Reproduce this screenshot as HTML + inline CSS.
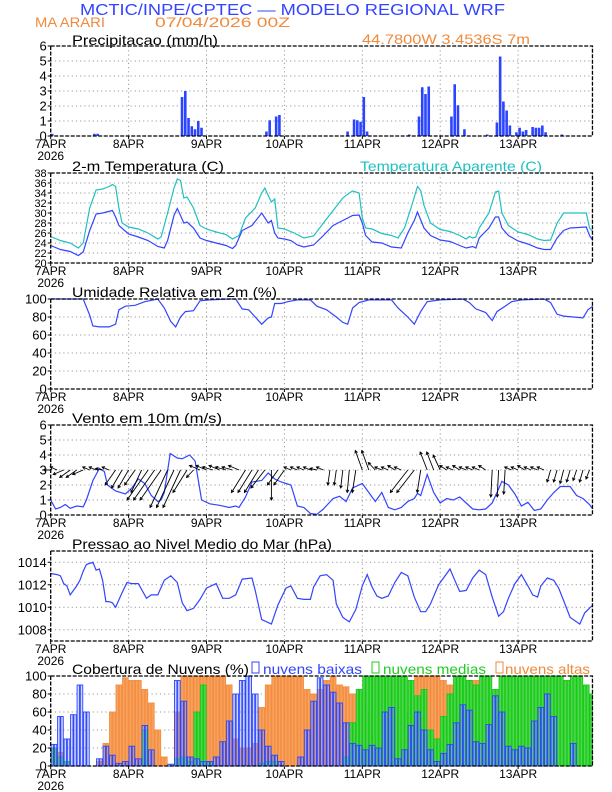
<!DOCTYPE html>
<html><head><meta charset="utf-8"><style>
html,body{margin:0;padding:0;background:#fff}
svg{display:block;font-family:"Liberation Sans",sans-serif}
</style></head><body>
<svg id="c" width="612" height="792" viewBox="0 0 612 792" xmlns="http://www.w3.org/2000/svg">
<text x="80" y="15" textLength="425" lengthAdjust="spacingAndGlyphs" font-size="16" fill="#3344ff">MCTIC/INPE/CPTEC — MODELO REGIONAL WRF</text>
<text x="35" y="27" textLength="70" lengthAdjust="spacingAndGlyphs" font-size="14" fill="#f08a3c">MA ARARI</text>
<text x="155" y="27" textLength="135" lengthAdjust="spacingAndGlyphs" font-size="14" fill="#f08a3c">07/04/2026 00Z</text>
<text x="362" y="44" textLength="168" lengthAdjust="spacingAndGlyphs" font-size="14" fill="#f08a3c">44.7800W 3.4536S 7m</text>
<text x="72" y="45" textLength="146" lengthAdjust="spacingAndGlyphs" font-size="14" fill="#000">Precipitacao (mm/h)</text>
<text x="72" y="171" textLength="152" lengthAdjust="spacingAndGlyphs" font-size="14" fill="#000">2-m Temperatura (C)</text>
<text x="360" y="171" textLength="182" lengthAdjust="spacingAndGlyphs" font-size="14" fill="#20c0c0">Temperatura Aparente (C)</text>
<text x="72" y="297" textLength="205" lengthAdjust="spacingAndGlyphs" font-size="14" fill="#000">Umidade Relativa em 2m (%)</text>
<text x="72" y="423" textLength="150" lengthAdjust="spacingAndGlyphs" font-size="14" fill="#000">Vento em 10m (m/s)</text>
<text x="72" y="549" textLength="260" lengthAdjust="spacingAndGlyphs" font-size="14" fill="#000">Pressao ao Nivel Medio do Mar (hPa)</text>
<text x="72" y="674" textLength="177" lengthAdjust="spacingAndGlyphs" font-size="14" fill="#000">Cobertura de Nuvens (%)</text>
<rect x="252" y="662" width="7" height="11" fill="none" stroke="#3344ff"/>
<text x="263" y="674" textLength="99" lengthAdjust="spacingAndGlyphs" font-size="14" fill="#3344ff">nuvens baixas</text>
<rect x="372" y="662" width="7" height="11" fill="none" stroke="#22cc22"/>
<text x="383" y="674" textLength="103" lengthAdjust="spacingAndGlyphs" font-size="14" fill="#22cc22">nuvens medias</text>
<rect x="496" y="662" width="7" height="11" fill="none" stroke="#f08a3c"/>
<text x="505" y="674" textLength="85" lengthAdjust="spacingAndGlyphs" font-size="14" fill="#f08a3c">nuvens altas</text>
</svg>
<script>
const dayLabels=["7APR","8APR","9APR","10APR","11APR","12APR","13APR"];
const precipHours=[0,13,14,40,41,42,43,44,45,46,66,67,69,70,91,93,94,95,96,97,110,113,114,115,116,123,124,125,127,134,137,138,139,140,141,143,144,145,146,148,149,150,151,152,157];
const precipValues=[0.15,0.15,0.15,2.6,3.0,1.2,0.65,0.45,1.0,0.55,0.3,1.05,1.3,1.4,0.3,1.1,1.05,0.95,2.6,0.3,0.1,1.3,3.25,2.8,3.3,1.3,3.45,2.05,0.45,0.1,0.9,5.3,2.3,1.7,0.7,0.25,0.55,0.3,0.4,0.6,0.55,0.55,0.7,0.25,0.1];
const tempHours=[0,3,6,8.5,10,12,14,16,19,20,21,24,27,30,33,35,36,38,39,40,41,42,44,46,48,51,54,56,57,59,62,65,67,68,69,70,72,74,76,78,81,84,87,90,93,95,96,97,99,102,105,108,110,112,113,115,117,120,123,126,128,130,131,132,135,137,138,139,141,144,147,150,152,154,156,158,160,165,166,167];
const tempValues=[23.5,22.7,22.3,21.5,22.2,26.5,29.8,30.0,30.5,29.2,27.5,25.8,25.2,24.5,23.3,23.0,24.5,29.5,30.9,29.5,28.0,28.2,27.0,25.0,24.5,24.0,23.5,22.9,23.5,26.5,27.5,30.0,28.0,28.5,26.0,25.0,24.8,24.5,23.6,23.2,23.6,25.5,27.5,28.5,29.5,29.6,28.0,25.5,24.2,24.0,23.2,23.0,26.0,28.5,30.2,27.0,25.5,24.6,24.3,23.5,23.0,23.3,23.0,25.0,27.0,29.2,29.2,27.0,25.5,24.4,23.8,23.0,22.7,22.7,25.0,26.5,27.0,27.2,25.5,24.5];
const appHours=[0,3,6,8.5,10,12,14,16,18,19,20,21,22,24,27,30,33,34,36,38,39,40,41,42,44,46,48,51,54,56,58,60,63,65,66,67,68,69,70,72,75,78,81,84,87,90,92,93,95,96,97,99,102,105,107,109,111,113,114,115,117,120,123,126,128,129,130,131,132,135,137,138,139,141,144,147,150,152,154,156,158,165,166,167];
const appValues=[25.3,24.5,24.0,23.0,24.0,31.0,34.6,34.8,35.3,35.7,35.3,31.0,28.0,27.2,26.8,26.0,24.8,25.2,30.0,35.0,36.8,36.5,33.0,33.2,31.0,27.5,26.8,26.2,25.7,24.8,25.5,29.0,31.0,34.0,35.0,33.5,32.2,32.8,27.0,26.8,26.0,25.0,25.4,28.0,30.5,33.0,34.0,34.4,34.0,29.0,27.0,26.8,25.9,25.5,25.0,27.0,31.0,35.3,34.5,31.5,28.0,26.7,26.3,25.5,24.8,25.3,25.0,25.2,27.0,30.0,34.2,34.4,30.0,27.5,26.2,25.7,24.8,24.5,24.6,28.0,30.0,30.0,27.0,26.3];
const rhHours=[0,10,12,13,15,18,20,21,23,26,29,33,35,37,38.5,40,41.5,44,46,49,55,57,59,61,63,65,67,68,69,71,73,76,80,82,85,88,90,91.5,93,95,98,105,107,110,112,114,116,120,127,129,131,134,136,137.5,140,142,145,152,154,156,158,161,164,165.5,167];
const rhValues=[100,100,82,70,69,69,72,88,92,93,97,100,90,75,69,80,86,87,98,99,100,100,89,88,80,72,79,80,95,95,97,99,99,92,88,80,74,72,90,96,99,99,90,80,72,86,97,99,100,96,89,85,76,86,92,97,99,100,96,83,81,80,79,88,92];
const windHours=[0,1.5,3,4.5,6,8,10,11,13,15,16.5,17.5,20,23,25,27,29,31,33,34,35,36.8,39,40.5,42.8,44.5,46.5,49,52,55,57,58,60,62,65,67,69,71,74,76,78,80,82,84,87,89,91,93,96,98,100,102,104,106,108,110,112,113,114,116,118,120,122,124,126,128,130,132,134,136,137.5,139,141,143,145,147,149,151,153,155,157,160,162,164,166,167];
const windSpeed=[1.0,0.4,0.5,0.7,0.45,0.6,0.55,1.0,2.3,3.1,2.9,2.0,1.6,1.4,1.8,2.4,2.1,1.3,0.9,1.0,1.5,4.1,3.8,3.75,4.0,3.6,1.0,0.75,0.65,0.5,0.6,0.5,1.2,2.2,2.3,2.8,2.4,2.2,2.0,0.6,0.5,0.1,0.05,0.4,1.1,1.25,0.9,1.8,2.1,1.5,0.9,1.5,0.5,0.35,0.5,0.9,1.1,1.45,1.3,2.7,1.5,0.8,1.1,1.0,1.2,0.8,0.4,0.35,0.4,0.8,1.5,2.25,2.0,1.4,0.6,0.85,0.3,0.4,1.0,1.5,1.9,1.9,1.3,1.1,0.7,0.4];
const arrowU=[-1,-1,-1.5,-1.5,-1.5,-1.5,-1,-1,-1,-1,-1.5,-1.5,-1.5,-1.5,-1.5,-3,-3,-3,-2.5,-2.5,-2.5,-2,-1,-1.5,-1.5,-1.5,-1.5,-1.5,-1.5,-1.5,-2,-2,-2,-2,0,-1.5,-1.5,-1,-1,-1,-1,-1,-1,-0.3,-0.3,-0.3,-0.3,-0.5,-1,-1,-1,-1,-1,-1,-1,-2.5,-2.5,-0.5,-1,-1,-1,-1,-1,-1,-1,-1,-1,-1,-0.2,-0.2,-0.2,-1,-1,-1,-1,-1,-1,-0.5,-0.5,-0.5,-0.5,-0.5,-0.5,-0.5];
const arrowV=[0,0.2,-0.3,-0.5,-0.5,-0.3,0.2,0.2,0.1,0.2,-1.0,-1.2,-1.2,-1.0,-1.5,-2,-2,-2,-2.5,-2.5,-2.5,-1.5,-0.5,0.3,0.3,0.2,0.3,0.2,0.2,0.3,-1.5,-1.5,-1.5,-1.2,-2,-1,-1,0.2,0.2,0.2,0.2,0.1,0.2,-1,-1,-1.2,-1.5,-1.5,1.3,1.3,0.5,0.2,0.2,0.3,0.2,-1.5,-1.5,-1.5,1.2,1.2,1.0,0.3,0.2,0.3,0.2,0.2,0.2,0.3,-1.8,-1.8,-1.6,0.2,0.2,0.3,0.2,0.2,0.2,-0.8,-0.8,-0.9,-0.8,-0.7,-0.8,-0.6];
const presHours=[0,2,3,4,5,6,8,9,10,11,13,14,15,16,17,18,19,20,22,23.5,25,27,29.5,31,33,35,37,39,40.5,42,44,46,48,51,53,55,57,59,62,63,65,68,70,72.5,74,76,78,80,81,83,85,87,88,90,92,94,96,97.5,99,100.5,102,104,106,108,110,112,114,115.5,117,119.5,121,123,124.5,126,128,130,132,134,136,138,139.5,141,143,145,147,148.5,150,151,153,155,156.5,158,160,163,164.5,167];
const presValues=[1013,1012.9,1012.8,1012.1,1011.9,1011.1,1011.9,1012.4,1013.2,1013.8,1014.0,1013.3,1013.4,1012.4,1010.5,1010.5,1010.4,1010.0,1011.3,1012.2,1012.1,1012.1,1010.8,1011.1,1011.1,1012.4,1012.8,1012.2,1010.4,1009.7,1009.9,1010.7,1011.7,1012.1,1010.8,1010.8,1011.1,1012.5,1012.6,1011.5,1008.9,1008.5,1010.2,1011.7,1011.9,1010.8,1010.7,1010.7,1011.8,1012.8,1012.9,1012.4,1010.3,1009.1,1008.7,1009.8,1011.9,1012.9,1011.8,1011.0,1010.8,1011.0,1012.2,1013.1,1012.8,1010.9,1009.6,1009.6,1010.3,1012.0,1012.6,1013.4,1012.4,1011.4,1011.5,1012.6,1013.3,1012.9,1010.9,1009.2,1009.6,1010.8,1012.1,1012.9,1011.9,1011.1,1010.9,1011.9,1012.6,1012.4,1011.7,1010.6,1009.1,1008.5,1009.5,1010.2];
const cloudLow=[24,55,30,57,90,60,0,8,22,12,3,5,22,8,45,18,0,0,2,95,72,10,8,5,5,10,27,50,80,95,100,80,40,22,12,5,0,0,10,40,72,98,90,82,70,48,25,23,18,23,20,60,65,8,18,45,60,40,18,5,14,24,48,68,62,27,25,46,78,60,22,18,22,20,50,65,80,55,0,0,25,0,0,0];
const cloudMid=[20,10,5,0,0,0,0,0,0,0,0,0,0,0,40,0,0,0,0,8,10,5,60,90,5,0,0,0,0,0,0,0,3,5,5,0,0,0,0,0,0,0,0,0,0,10,48,85,100,100,100,100,100,100,100,95,78,85,40,30,55,80,100,100,95,90,100,100,85,100,100,100,100,100,100,100,100,100,100,95,100,100,90,80];
const cloudHigh=[20,15,0,0,0,0,0,5,25,60,90,98,95,95,85,70,40,10,0,60,100,100,100,100,100,100,100,90,30,20,20,25,65,90,100,100,100,100,100,85,80,85,95,100,90,88,80,75,60,30,20,15,5,10,30,60,100,100,100,100,95,90,95,100,95,95,30,20,10,10,10,10,5,5,5,5,5,10,0,0,0,0,0,0];

const NS="http://www.w3.org/2000/svg";
const svg=document.getElementById('c');
const X0=50.7, PXH=3.246;
function X(h){return X0+h*PXH;}
const XR=X(166.9);
function mk(tag,attrs,parent){const e=document.createElementNS(NS,tag);for(const k in attrs)e.setAttribute(k,attrs[k]);(parent||svg).appendChild(e);return e;}
function panel(name,top,bot,ymin,ymax,ticks,labelSize){
  const Y=v=>bot-(v-ymin)/(ymax-ymin)*(bot-top);
  const g=mk('g',{});
  
  
  for(let d=1;d<7;d++){const l=mk('line',{x1:X(d*24),x2:X(d*24),y1:top,y2:bot,stroke:'#999','stroke-dasharray':'1.2 3','stroke-width':1},g);
    
    }
  ticks.forEach(t=>{
    if(t>ymin&&t<ymax){const l=mk('line',{x1:X0,x2:XR,y1:Y(t),y2:Y(t),stroke:'#999','stroke-dasharray':'1.2 3','stroke-width':1},g);
      
      }
    const tk=mk('line',{x1:X0-3,x2:X0,y1:Y(t),y2:Y(t),stroke:'#000'},g);
    
    
    const tx=mk('text',{x:X0-4,y:Y(t)+labelSize*0.36,'text-anchor':'end','font-size':labelSize,fill:'#000'},g);
    tx.textContent=String(t);
    
    
  });
  dayLabels.forEach((lab,i)=>{
    const tk=mk('line',{x1:X(i*24),x2:X(i*24),y1:bot,y2:bot+3,stroke:'#000'},g);
    
    
    const tx=mk('text',{x:X(i*24),y:bot+12,'text-anchor':'middle','font-size':12,fill:'#000'},g);
    tx.textContent=lab;
    
    
  });
  const yr=mk('text',{x:X0,y:bot+24,'text-anchor':'middle','font-size':12,fill:'#000'},g);
  yr.textContent='2026';
  
  
  return {g,Y,top,bot};
}
function frame(p,name){const r=mk('rect',{x:X0,y:p.top,width:XR-X0,height:p.bot-p.top,fill:'none',stroke:'#000','stroke-width':1.3,'stroke-dasharray':'4 1.5'});
  
  }
function line(p,hs,vs,color,name){const pts=hs.map((h,i)=>X(h).toFixed(1)+','+p.Y(vs[i]).toFixed(1)).join(' ');
  const l=mk('polyline',{points:pts,fill:'none',stroke:color,'stroke-width':1.2});
  
  }

const p1=panel('precip',46,136,0,6,[0,1,2,3,4,5,6],13);
precipHours.forEach((h,i)=>{const b=mk('rect',{x:X(h)+0.2,y:p1.Y(precipValues[i]),width:PXH*0.8,height:p1.bot-p1.Y(precipValues[i]),fill:'#2a44ff'});
  
  });
frame(p1,'precip');
const p2=panel('temp',173,263,20,38,[20,22,24,26,28,30,32,34,36,38],11);
line(p2,appHours,appValues,'#20c0c0','apparent-temp-line');
line(p2,tempHours,tempValues,'#3344ff','temp-line');
frame(p2,'temp');
const p3=panel('humidity',299,389,0,100,[0,20,40,60,80,100],13);
line(p3,rhHours,rhValues,'#3344ff','humidity-line');
frame(p3,'humidity');
const p4=panel('wind',425,515,0,6,[0,1,2,3,4,5,6],13);
line(p4,windHours,windSpeed,'#3344ff','wind-speed-line');
arrowU.forEach((u,i)=>{const h=i*2;const x1=X(h),y1=p4.Y(3);const x2=x1+u*7,y2=y1-arrowV[i]*15;
  const ang=Math.atan2(y2-y1,x2-x1);const hl=3;
  const d=`M${x1.toFixed(1)},${y1.toFixed(1)}L${x2.toFixed(1)},${y2.toFixed(1)}M${(x2-hl*Math.cos(ang-0.5)).toFixed(1)},${(y2-hl*Math.sin(ang-0.5)).toFixed(1)}L${x2.toFixed(1)},${y2.toFixed(1)}L${(x2-hl*Math.cos(ang+0.5)).toFixed(1)},${(y2-hl*Math.sin(ang+0.5)).toFixed(1)}`;
  const a=mk('path',{d:d,fill:'none',stroke:'#000','stroke-width':0.9});
  
  });
frame(p4,'wind');
const p5=panel('pressure',551,641,1007,1015,[1008,1010,1012,1014],13);
line(p5,presHours,presValues,'#3344ff','pressure-line');
frame(p5,'pressure');
const p6=panel('cloud',676,766,0,100,[0,20,40,60,80,100],13);
function bars(arr,fill,stroke,name){arr.forEach((v,i)=>{if(v<=0)return;const h=i*2;
  for(let k=0;k<2;k++){const x=X(h+k)+0.4;if(x>XR-1)continue;
    const b=mk('rect',{x:x,y:p6.Y(v),width:PXH-0.8,height:p6.bot-p6.Y(v),fill:fill,stroke:stroke,'stroke-width':0.9});
    
    }});}
bars(cloudHigh,'#f5a460','#f58a3c','cloud-high-bar');
bars(cloudMid,'#55d455','#11cc11','cloud-mid-bar');
bars(cloudLow,'rgba(120,140,255,0.35)','#2a44ff','cloud-low-bar');
frame(p6,'cloud');
</script>
</body></html>
